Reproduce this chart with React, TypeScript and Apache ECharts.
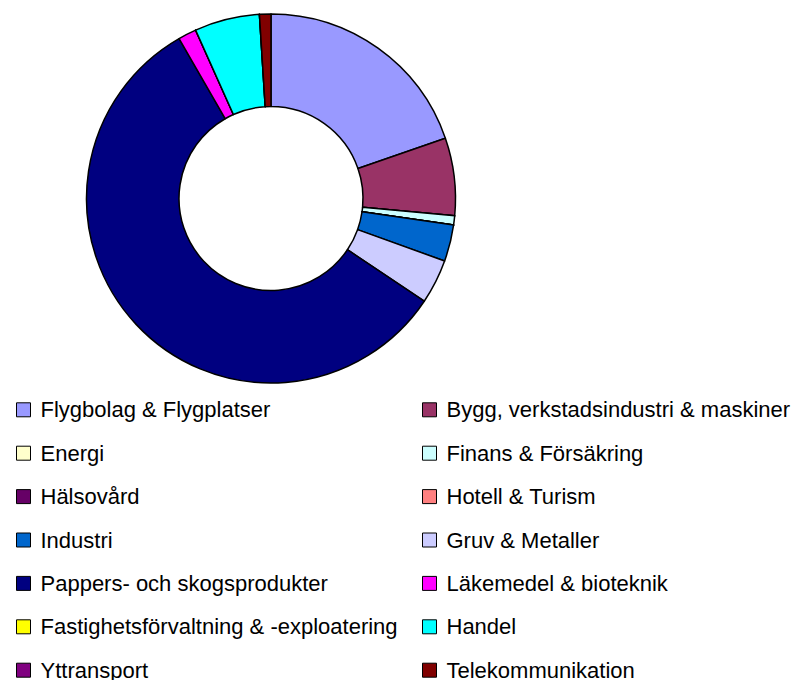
import React, { useEffect, useRef } from "react";
import * as echarts from "echarts";

const categories = [
  "Flygbolag & Flygplatser",
  "Bygg, verkstadsindustri & maskiner",
  "Energi",
  "Finans & Försäkring",
  "Hälsovård",
  "Hotell & Turism",
  "Industri",
  "Gruv & Metaller",
  "Pappers- och skogsprodukter",
  "Läkemedel & bioteknik",
  "Fastighetsförvaltning & -exploatering",
  "Handel",
  "Yttransport",
  "Telekommunikation",
];

const values = [19.7, 6.8, 0, 0.8, 0, 0, 3.2, 3.9, 57.3, 1.6, 0, 5.7, 0, 1.0];

const colors = [
  "#9999FF",
  "#993366",
  "#FFFFCC",
  "#CCFFFF",
  "#660066",
  "#FF8080",
  "#0066CC",
  "#CCCCFF",
  "#000080",
  "#FF00FF",
  "#FFFF00",
  "#00FFFF",
  "#800080",
  "#800000",
];

export default function App() {
  const ref = useRef<HTMLDivElement>(null);

  useEffect(() => {
    document.body.style.margin = "0";
    if (!ref.current) return;
    const chart = echarts.init(ref.current, undefined, { renderer: "svg" });
    const rowPitch = 43.4;
    const firstCenter = 410.3;
    const legends = categories.map((name, i) => {
      const row = Math.floor(i / 2);
      const col = i % 2;
      return {
        orient: "horizontal" as const,
        left: col === 0 ? 16 : 422,
        top: firstCenter + row * rowPitch - 11.5,
        padding: 0,
        itemWidth: 14,
        itemHeight: 14,
        icon: "rect",
        selectedMode: false,
        itemStyle: { borderColor: "#000", borderWidth: 1 },
        textStyle: {
          fontFamily: "Liberation Sans, Arial, sans-serif",
          fontSize: 22,
          color: "#000",
          padding: [0, 0, 0, 5],
        },
        data: [name],
      };
    });
    chart.setOption({
      animation: false,
      color: colors,
      legend: legends,
      series: [
        {
          type: "pie",
          center: [271, 198.5],
          radius: [92, 184.5],
          startAngle: 90,
          clockwise: true,
          avoidLabelOverlap: false,
          label: { show: false },
          labelLine: { show: false },
          emphasis: { disabled: true },
          itemStyle: { borderColor: "#000", borderWidth: 1.5 },
          data: categories.map((name, i) => ({ name, value: values[i] })),
        },
      ],
    });
    return () => chart.dispose();
  }, []);

  return <div ref={ref} style={{ width: 802, height: 680 }} />;
}
